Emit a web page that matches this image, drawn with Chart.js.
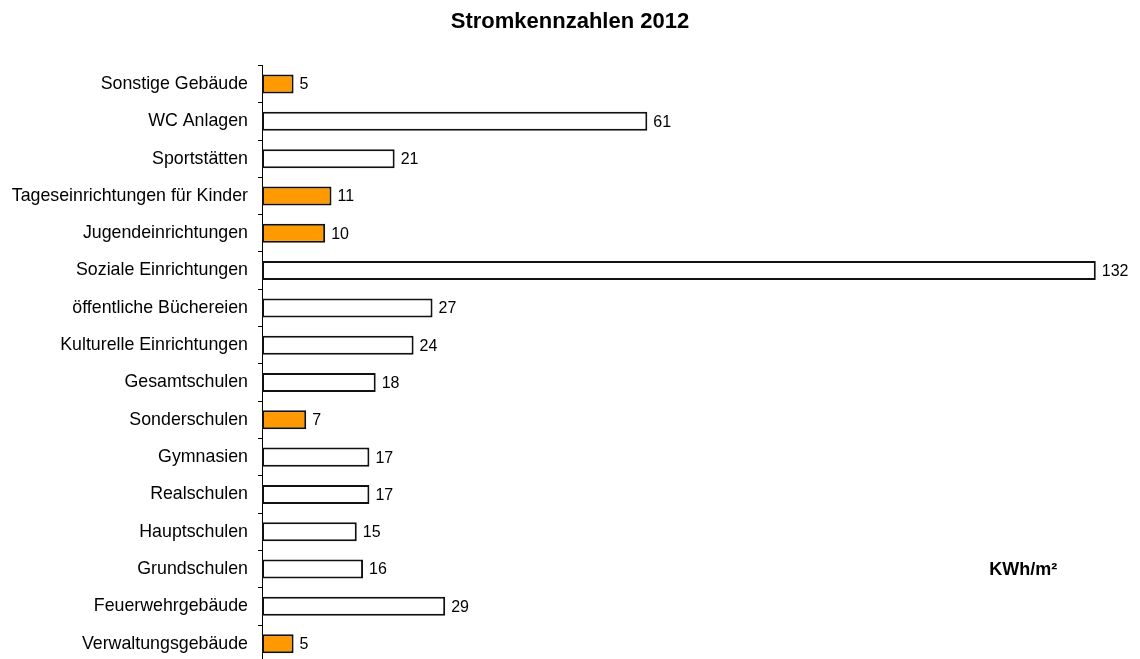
<!DOCTYPE html>
<html>
<head>
<meta charset="utf-8">
<script src="https://cdn.jsdelivr.net/npm/chart.js"></script>
<style>
  html, body { margin: 0; padding: 0; background: #fff; overflow: hidden; }
  canvas { display: block; }
</style>
</head>
<body>
<canvas id="stromChart" width="1140" height="683"></canvas>
<script>
// Gebäudekategorien (von oben nach unten)
const categories = [
    'Sonstige Gebäude',
    'WC Anlagen',
    'Sportstätten',
    'Tageseinrichtungen für Kinder',
    'Jugendeinrichtungen',
    'Soziale Einrichtungen',
    'öffentliche Büchereien',
    'Kulturelle Einrichtungen',
    'Gesamtschulen',
    'Sonderschulen',
    'Gymnasien',
    'Realschulen',
    'Hauptschulen',
    'Grundschulen',
    'Feuerwehrgebäude',
    'Verwaltungsgebäude'
];

// Stromkennwerte in KWh/m²
const values = [5, 61, 21, 11, 10, 132, 27, 24, 18, 7, 17, 17, 15, 16, 29, 5];

// hervorgehobene Kategorien (orange)
const highlighted = [
    'Sonstige Gebäude',
    'Tageseinrichtungen für Kinder',
    'Jugendeinrichtungen',
    'Sonderschulen',
    'Verwaltungsgebäude'
];

const unitLabel = 'KWh/m²';
const titleText = 'Stromkennzahlen 2012';

const FONT = '"Liberation Sans", Arial, Helvetica, sans-serif';
const ORANGE = '#FF9900';

// Werte rechts neben den Balken + Einheit
const valueLabels = {
    id: 'valueLabels',
    afterDatasetsDraw(chart) {
        const ctx = chart.ctx;
        const meta = chart.getDatasetMeta(0);
        ctx.save();
        ctx.fillStyle = '#000';
        ctx.font = '16px ' + FONT;
        ctx.textAlign = 'left';
        ctx.textBaseline = 'middle';
        meta.data.forEach((bar, i) => {
            ctx.fillText(values[i], bar.x + 6, bar.y + 1);
        });
        // Einheit neben der Zeile "Grundschulen"
        const xs = chart.scales.x, ys = chart.scales.y;
        ctx.font = 'bold 18px ' + FONT;
        ctx.textAlign = 'center';
        ctx.fillText(unitLabel, xs.getPixelForValue(120.5), ys.getPixelForValue(categories.indexOf('Grundschulen')) + 1);
        ctx.restore();
    }
};

const data = {
    labels: categories,
    datasets: [{
        data: values,
        backgroundColor: categories.map(c => highlighted.includes(c) ? ORANGE : '#ffffff'),
        borderColor: '#111',
        borderWidth: 2,
        borderSkipped: false,
        barPercentage: 0.51,
        categoryPercentage: 1
    }]
};

const config = {
    type: 'bar',
    data: data,
    plugins: [valueLabels],
    options: {
        indexAxis: 'y',
        responsive: false,
        animation: false,
        layout: { padding: { left: 0, right: 0, top: 0, bottom: 0 } },
        plugins: {
            legend: { display: false },
            tooltip: { enabled: false },
            title: {
                display: true,
                text: titleText,
                color: '#000',
                font: { family: FONT, size: 22, weight: 'bold' },
                padding: { top: 9, bottom: 30 }
            }
        },
        scales: {
            x: {
                display: false,
                min: 0,
                max: 139
            },
            y: {
                afterFit: (scale) => { scale.width = 262; },
                border: { display: true, color: '#000', width: 1 },
                grid: {
                    display: true,
                    drawOnChartArea: false,
                    drawTicks: true,
                    tickLength: 4,
                    color: '#000',
                    offset: true
                },
                ticks: {
                    color: '#000',
                    padding: 10,
                    font: { family: FONT, size: 17.8 }
                }
            }
        }
    }
};

const ctx = document.getElementById('stromChart').getContext('2d');
const chart = new Chart(ctx, config);
</script>
</body>
</html>
